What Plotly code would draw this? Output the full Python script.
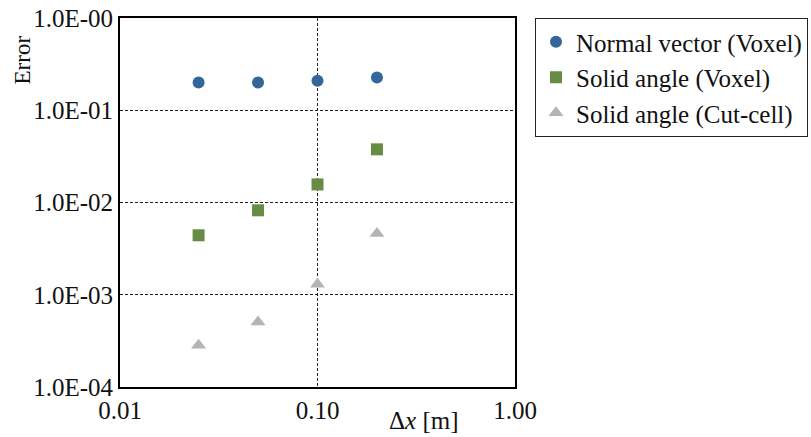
import plotly.graph_objects as go

dx = [0.025, 0.05, 0.1, 0.2]
normal_voxel = [0.200, 0.200, 0.209, 0.227]
solid_voxel = [0.00441, 0.00823, 0.0157, 0.0377]
solid_cutcell = [0.000283, 0.000508, 0.00130, 0.00460]

series_names = ["Normal vector (Voxel)", "Solid angle (Voxel)", "Solid angle (Cut-cell)"]
y_tick_vals = [1e-4, 1e-3, 1e-2, 1e-1, 1e0]
y_tick_text = ["1.0E-04", "1.0E-03", "1.0E-02", "1.0E-01", "1.0E-00"]
x_tick_vals = [0.01, 0.1, 1.0]
x_tick_text = ["0.01", "0.10", "1.00"]

FONT = "Liberation Serif"
fig = go.Figure()
styles = [("circle", "#336699", 12), ("square", "#688c44", 12), ("triangle-up", "#b4b4b4", 13)]
for name, ys, (sym, col, sz) in zip(series_names, [normal_voxel, solid_voxel, solid_cutcell], styles):
    fig.add_trace(go.Scatter(x=dx, y=ys, mode="markers", name=name,
                             marker=dict(symbol=sym, color=col, size=sz, line=dict(width=0))))

axis_common = dict(showline=True, mirror=True, linecolor="black", linewidth=2,
                   showgrid=True, gridcolor="#222222", gridwidth=1, griddash="3px,2px",
                   ticks="", zeroline=False, automargin=False,
                   tickfont=dict(family=FONT, size=25, color="#111111"))
fig.update_xaxes(type="log", range=[-2, 0], tickvals=x_tick_vals, ticktext=x_tick_text, ticklabelstandoff=0, **axis_common)
fig.update_yaxes(type="log", range=[-4, 0], tickvals=y_tick_vals, ticktext=y_tick_text, ticklabelstandoff=0, **axis_common)

fig.add_annotation(text="Error", xref="paper", yref="paper", x=-0.248, y=0.885, textangle=-90,
                   showarrow=False, font=dict(family=FONT, size=23, color="#111111"), xanchor="center", yanchor="middle")
fig.add_annotation(text="Δ<i>x</i> [m]", xref="paper", yref="paper", x=0.77, y=-0.09,
                   showarrow=False, font=dict(family=FONT, size=25, color="#111111"), xanchor="center", yanchor="middle")

fig.update_layout(
    width=811, height=437, margin=dict(l=120, r=296, t=18, b=50),
    plot_bgcolor="white", paper_bgcolor="white",
    legend=dict(xref="container", yref="container", x=808 / 811, y=1 - 18 / 437,
                xanchor="right", yanchor="top", bordercolor="#222222", borderwidth=1,
                font=dict(family=FONT, size=25, color="#111111"), itemwidth=30),
    showlegend=True,
)
fig.write_html("out.html")
